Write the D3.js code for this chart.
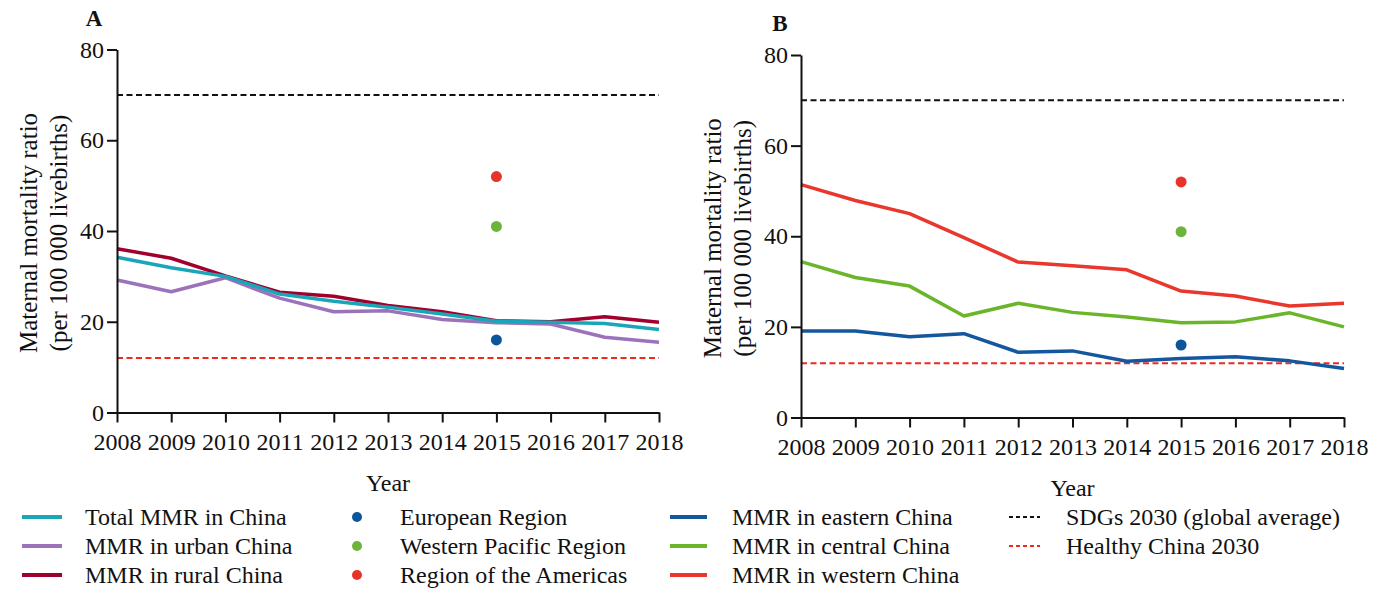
<!DOCTYPE html>
<html lang="en">
<head>
    <meta charset="UTF-8">
    <title>Maternal mortality ratio in China, 2008-2018</title>
    <script src="https://d3js.org/d3.v7.min.js"></script>
    <style>
        body {
            margin: 0;
            background: #fff;
        }
        .axis path, .axis line {
            stroke: #111;
            stroke-width: 2;
        }
    </style>
</head>
<body>
    <svg width="1384" height="590"></svg>

    <script>
        // data
        const years = [2008, 2009, 2010, 2011, 2012, 2013, 2014, 2015, 2016, 2017, 2018];
        const yTicks = [0, 20, 40, 60, 80];

        const totalMMR   = [34.2, 31.9, 30.0, 26.1, 24.5, 23.2, 21.7, 20.1, 19.9, 19.6, 18.3];
        const urbanMMR   = [29.2, 26.6, 29.7, 25.2, 22.2, 22.4, 20.5, 19.8, 19.5, 16.6, 15.5];
        const ruralMMR   = [36.1, 34.0, 30.1, 26.5, 25.6, 23.6, 22.2, 20.2, 20.0, 21.1, 19.9];

        const easternMMR = [19.1, 19.1, 17.8, 18.5, 14.4, 14.7, 12.4, 13.0, 13.4, 12.5, 10.8];
        const centralMMR = [34.4, 30.9, 29.0, 22.4, 25.2, 23.2, 22.2, 20.9, 21.1, 23.1, 20.0];
        const westernMMR = [51.4, 47.9, 45.0, 39.7, 34.3, 33.5, 32.6, 27.9, 26.8, 24.6, 25.2];

        const regionNames  = ["European Region", "Western Pacific Region", "Region of the Americas"];
        const regionYear   = 2015;
        const regionValues = [16, 41, 52];

        const sdgTarget = 70;           // SDGs 2030 (global average)
        const healthyChinaTarget = 12;  // Healthy China 2030

        const serif = "'Liberation Serif', 'Times New Roman', Times, 'Nimbus Roman', 'Noto Serif', 'DejaVu Serif', FreeSerif, serif";

        const colors = {
            total: "#1aa5b8",
            urban: "#9c73bb",
            rural: "#a1002e",
            eastern: "#13579f",
            central: "#6bb52b",
            western: "#e9372d",
            europe: "#0c559b",
            pacific: "#6cb43a",
            americas: "#e8332a",
            sdg: "#111",
            healthy: "#f0281e"
        };
        const regionColors = [colors.europe, colors.pacific, colors.americas];

        const svg = d3.select("svg")
            .attr("font-family", serif)
            .style("font-family", serif);

        function drawPanel(p) {
            const g = svg.append("g");

            const x = d3.scaleLinear().domain([2008, 2018]).range([p.x0, p.x1]);
            const y = d3.scaleLinear().domain([0, 80]).range([p.yBot, p.yTop]);

            // target lines
            [[sdgTarget, colors.sdg], [healthyChinaTarget, colors.healthy]].forEach(([v, c]) => {
                g.append("line")
                    .attr("x1", x(2008)).attr("x2", x(2018))
                    .attr("y1", y(v)).attr("y2", y(v))
                    .attr("stroke", c)
                    .attr("stroke-width", 2)
                    .attr("stroke-dasharray", "6,3.5");
            });

            const line = d3.line()
                .x((d, i) => x(years[i]))
                .y(d => y(d));

            p.series.forEach(s => {
                g.append("path")
                    .datum(s.values)
                    .attr("fill", "none")
                    .attr("stroke", s.color)
                    .attr("stroke-width", 3.5)
                    .attr("stroke-linejoin", "round")
                    .attr("d", line);
            });

            g.selectAll(".region")
                .data(regionValues)
                .enter().append("circle")
                .attr("cx", x(regionYear))
                .attr("cy", d => y(d))
                .attr("r", 5.5)
                .attr("fill", (d, i) => regionColors[i]);

            const xAxis = g.append("g")
                .attr("class", "axis")
                .attr("transform", `translate(0,${p.yBot})`)
                .call(d3.axisBottom(x).tickValues(years).tickFormat(d3.format("d"))
                    .tickSize(10).tickSizeOuter(0).tickPadding(10));

            const yAxis = g.append("g")
                .attr("class", "axis")
                .attr("transform", `translate(${p.x0},0)`)
                .call(d3.axisLeft(y).tickValues(yTicks).tickSize(10).tickSizeOuter(0).tickPadding(3));

            [xAxis, yAxis].forEach(a => a.attr("font-family", serif).attr("font-size", 24));
            g.selectAll(".axis text").attr("fill", "#111");

            g.append("text")
                .attr("x", (p.x0 + p.x1) / 2)
                .attr("y", p.yBot + 78)
                .attr("text-anchor", "middle")
                .attr("font-size", 24)
                .attr("fill", "#111")
                .text("Year");

            const midY = (p.yTop + p.yBot) / 2;
            [["Maternal mortality ratio", -89], ["(per 100 000 livebirths)", -59]].forEach(([t, off]) => {
                g.append("text")
                    .attr("transform", `translate(${p.x0 + off},${midY + 2}) rotate(-90)`)
                    .attr("text-anchor", "middle")
                    .attr("dominant-baseline", "central")
                    .attr("font-size", 25)
                    .attr("fill", "#111")
                    .text(t);
            });

            g.append("text")
                .attr("x", p.letterX)
                .attr("y", p.letterY)
                .attr("text-anchor", "middle")
                .attr("font-size", 23)
                .attr("font-weight", "bold")
                .attr("fill", "#111")
                .text(p.letter);
        }

        drawPanel({
            letter: "A", letterX: 94, letterY: 26,
            x0: 117, x1: 659, yTop: 49.5, yBot: 412.5,
            series: [
                {values: ruralMMR, color: colors.rural},
                {values: urbanMMR, color: colors.urban},
                {values: totalMMR, color: colors.total}
            ]
        });

        drawPanel({
            letter: "B", letterX: 780, letterY: 31,
            x0: 801, x1: 1344, yTop: 55, yBot: 417.5,
            series: [
                {values: westernMMR, color: colors.western},
                {values: centralMMR, color: colors.central},
                {values: easternMMR, color: colors.eastern}
            ]
        });

        // legend
        const legendRows = [517, 546, 575];
        const legendItems = [
            {col: 0, row: 0, type: "line", color: colors.total, label: "Total MMR in China"},
            {col: 0, row: 1, type: "line", color: colors.urban, label: "MMR in urban China"},
            {col: 0, row: 2, type: "line", color: colors.rural, label: "MMR in rural China"},
            {col: 1, row: 0, type: "dot", color: colors.europe, label: regionNames[0]},
            {col: 1, row: 1, type: "dot", color: colors.pacific, label: regionNames[1]},
            {col: 1, row: 2, type: "dot", color: colors.americas, label: regionNames[2]},
            {col: 2, row: 0, type: "line", color: colors.eastern, label: "MMR in eastern China"},
            {col: 2, row: 1, type: "line", color: colors.central, label: "MMR in central China"},
            {col: 2, row: 2, type: "line", color: colors.western, label: "MMR in western China"},
            {col: 3, row: 0, type: "dash", color: colors.sdg, label: "SDGs 2030 (global average)"},
            {col: 3, row: 1, type: "dash", color: colors.healthy, label: "Healthy China 2030"}
        ];
        const legendCols = [
            {x0: 22, x1: 62, tx: 85},
            {x0: 357, x1: 357, tx: 400},
            {x0: 670, x1: 707, tx: 732},
            {x0: 1009, x1: 1040, tx: 1066}
        ];

        const legend = svg.append("g");
        legendItems.forEach(d => {
            const c = legendCols[d.col];
            const yy = legendRows[d.row];
            if (d.type === "dot") {
                legend.append("circle")
                    .attr("cx", c.x0).attr("cy", yy).attr("r", 5)
                    .attr("fill", d.color);
            } else {
                legend.append("line")
                    .attr("x1", c.x0).attr("x2", c.x1)
                    .attr("y1", yy).attr("y2", yy)
                    .attr("stroke", d.color)
                    .attr("stroke-width", d.type === "line" ? 4 : 2)
                    .attr("stroke-dasharray", d.type === "dash" ? "4,3" : null);
            }
            legend.append("text")
                .attr("x", c.tx)
                .attr("y", yy)
                .attr("dominant-baseline", "central")
                .attr("font-size", 24)
                .attr("fill", "#111")
                .text(d.label);
        });
    </script>
</body>
</html>
